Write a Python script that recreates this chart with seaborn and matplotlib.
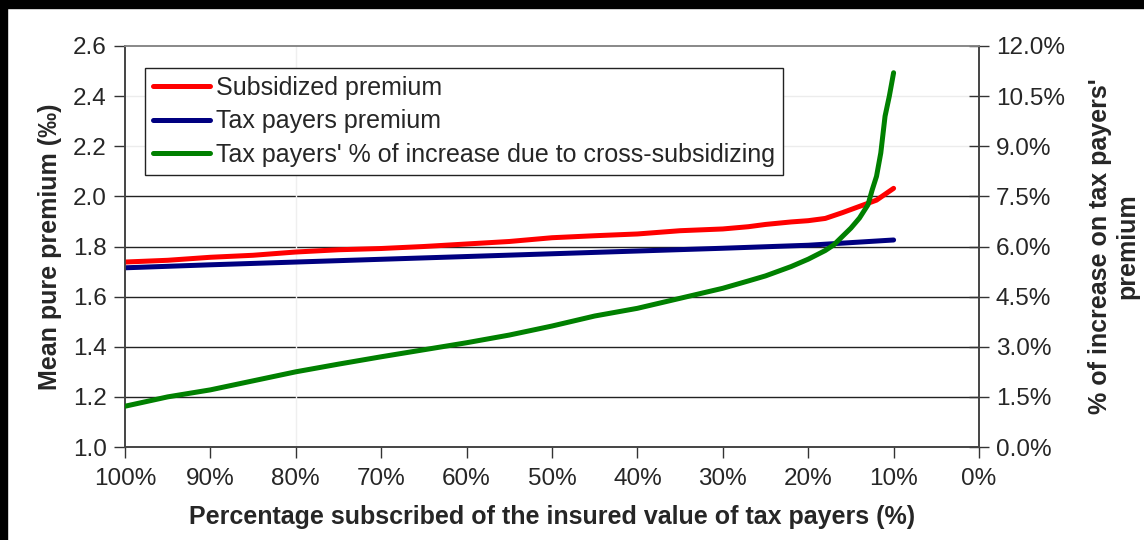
import numpy as np
import pandas as pd
import matplotlib
matplotlib.use("Agg")
import matplotlib.pyplot as plt
from matplotlib.lines import Line2D
from matplotlib.patches import Rectangle
import seaborn as sns

# Share of insured value subscribed (%), read from 100% down to 10%
pct_red = [100, 95, 90, 85, 80, 75, 70, 65, 60, 55, 50, 45, 40, 35, 30, 27, 25, 22, 20, 18, 16, 14, 12, 10]
subsidized = [1.738, 1.745, 1.757, 1.765, 1.778, 1.787, 1.792, 1.800, 1.810, 1.820, 1.835, 1.843,
              1.850, 1.863, 1.870, 1.879, 1.888, 1.898, 1.903, 1.912, 1.935, 1.960, 1.985, 2.032]

pct_blue = [100, 90, 80, 70, 60, 50, 40, 30, 20, 10]
taxpayers = [1.715, 1.727, 1.738, 1.749, 1.760, 1.771, 1.782, 1.793, 1.805, 1.826]

pct_green = [100, 95, 90, 85, 80, 75, 70, 65, 60, 55, 50, 45, 40, 35, 30, 27, 25, 22, 20, 18,
             17, 16, 15, 14, 13, 12.5, 12, 11.5, 11, 10.5, 10]
increase = [1.22, 1.50, 1.71, 1.98, 2.25, 2.48, 2.70, 2.91, 3.12, 3.35, 3.62, 3.92, 4.15, 4.45,
            4.75, 4.97, 5.12, 5.40, 5.62, 5.88, 6.05, 6.30, 6.55, 6.85, 7.25, 7.70, 8.10, 8.80,
            9.90, 10.50, 11.20]

x_ticks = [100, 90, 80, 70, 60, 50, 40, 30, 20, 10, 0]
left_ticks = [1.0, 1.2, 1.4, 1.6, 1.8, 2.0, 2.2, 2.4, 2.6]
right_ticks = [0.0, 1.5, 3.0, 4.5, 6.0, 7.5, 9.0, 10.5, 12.0]

labels = ["Subsidized premium", "Tax payers premium",
          "Tax payers' % of increase due to cross-subsidizing"]
colors = ["#FF0000", "#000080", "#008000"]

sns.set_style("white")
plt.rcParams["font.family"] = ["Liberation Sans", "DejaVu Sans"]

fig = plt.figure(figsize=(11.44, 5.40), dpi=100)
fig.patch.set_facecolor("white")
ax = fig.add_axes([125 / 1144, 1 - 447 / 540, (979 - 125) / 1144, (447 - 46) / 540])
ax2 = ax.twinx()

# horizontal grid on the primary scale
for v in left_ticks[1:-1]:
    if v <= 2.0:
        ax.axhline(v, color="#222222", lw=1.0, zorder=0)
    else:
        ax.axhline(v, color="#ececec", lw=1.0, zorder=0)
ax.axvline(80, color="#efefef", lw=1.0, zorder=0)

lw = 3.6
df_r = pd.DataFrame({"x": pct_red, "y": subsidized})
df_b = pd.DataFrame({"x": pct_blue, "y": taxpayers})
df_g = pd.DataFrame({"x": pct_green, "y": increase})
sns.lineplot(data=df_r, x="x", y="y", ax=ax, color=colors[0], lw=lw, solid_capstyle="round",
             sort=False, zorder=3)
sns.lineplot(data=df_b, x="x", y="y", ax=ax, color=colors[1], lw=lw, solid_capstyle="round",
             sort=False, zorder=2)
sns.lineplot(data=df_g, x="x", y="y", ax=ax2, color=colors[2], lw=lw, solid_capstyle="round",
             sort=False, zorder=3)

ax.set_xlim(100, 0)
ax.set_ylim(1.0, 2.6)
ax2.set_ylim(0, 12)
ax.set_xticks(x_ticks)
ax.set_xticklabels([f"{t}%" for t in x_ticks])
ax.set_yticks(left_ticks)
ax.set_yticklabels([f"{t:.1f}" for t in left_ticks])
ax2.set_yticks(right_ticks)
ax2.set_yticklabels([f"{t:.1f}%" for t in right_ticks])

fs = 17.5
ax.tick_params(axis="x", direction="out", length=8, width=1, color="#333333", pad=7,
               labelsize=fs, bottom=True)
ax.tick_params(axis="y", direction="out", length=8, width=1, color="#333333", pad=5,
               labelsize=fs, left=True)
ax2.tick_params(axis="y", direction="inout", length=14, width=1, color="#333333", pad=5,
                labelsize=fs, right=True)

for a in (ax, ax2):
    for s in a.spines.values():
        s.set_color("#444444")
        s.set_linewidth(1.2)
    a.spines["top"].set_color("#888888")

lab = 18
ax.set_xlabel("Percentage subscribed of the insured value of tax payers (%)",
              fontsize=lab, fontweight="bold", labelpad=11)
ax.set_ylabel("Mean pure premium (‰)", fontsize=lab, fontweight="bold", labelpad=8)
ax2.set_ylabel("% of increase on tax payers'\npremium", fontsize=lab, fontweight="bold",
               labelpad=17, rotation=90, va="top", linespacing=1.15)

handles = [Line2D([], [], color=c, lw=lw, solid_capstyle="round") for c in colors]
leg = ax2.legend(handles, labels, loc="upper left", bbox_to_anchor=(0.0234, 0.945),
                 fontsize=18, frameon=True, fancybox=False, framealpha=1,
                 edgecolor="#222222", handlelength=2.3, handletextpad=0.22,
                 labelspacing=0.37, borderpad=0.32, borderaxespad=0)
leg.get_frame().set_linewidth(1.0)

# dark frame strips along the top and left edges
fig.patches.append(Rectangle((0, 1 - 8 / 540), 1, 8 / 540, transform=fig.transFigure,
                             color="black", zorder=10))
fig.patches.append(Rectangle((0, 0), 7 / 1144, 1, transform=fig.transFigure,
                             color="black", zorder=10))

fig.savefig("out.png", dpi=100, facecolor="white")
